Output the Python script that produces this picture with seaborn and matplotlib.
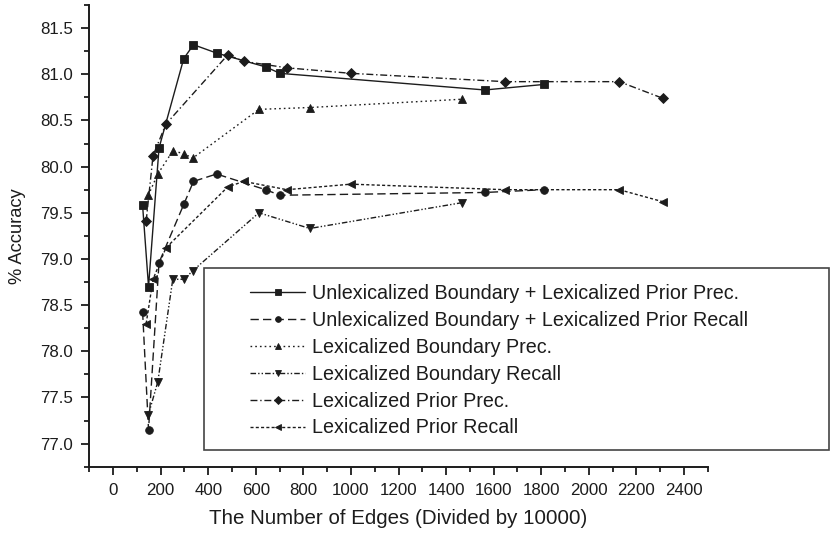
import numpy as np
import pandas as pd
import matplotlib
matplotlib.use("Agg")
import matplotlib.pyplot as plt
from matplotlib.patches import Rectangle
from matplotlib.ticker import MultipleLocator, FormatStrFormatter
import seaborn as sns

# Number of edges (divided by 10000) for each parser configuration
edges_unlex_boundary = [124, 149, 193, 297, 338, 435, 641, 702, 1563, 1812]
edges_lex_boundary = [148, 188, 251, 299, 334, 613, 827, 1468]
edges_lex_prior = [139, 168, 222, 482, 549, 731, 1000, 1648, 2128, 2311]

# Accuracy (%) per series
unlex_prec = [79.58, 78.70, 80.20, 81.17, 81.32, 81.23, 81.08, 81.01, 80.83, 80.89]
unlex_recall = [78.43, 77.15, 78.96, 79.59, 79.84, 79.92, 79.75, 79.69, 79.72, 79.75]
lexb_prec = [79.69, 79.92, 80.17, 80.14, 80.09, 80.62, 80.64, 80.73]
lexb_recall = [77.31, 77.67, 78.78, 78.78, 78.87, 79.50, 79.33, 79.61]
lexp_prec = [79.41, 80.12, 80.46, 81.21, 81.14, 81.07, 81.01, 80.92, 80.92, 80.74]
lexp_recall = [78.30, 78.78, 79.12, 79.78, 79.84, 79.75, 79.81, 79.75, 79.75, 79.62]

series_labels = [
    "Unlexicalized Boundary + Lexicalized Prior Prec.",
    "Unlexicalized Boundary + Lexicalized Prior Recall",
    "Lexicalized Boundary Prec.",
    "Lexicalized Boundary Recall",
    "Lexicalized Prior Prec.",
    "Lexicalized Prior Recall",
]

sns.set_theme(style="ticks")
plt.rcParams["font.family"] = ["Liberation Sans", "DejaVu Sans"]
ink = "#1c1c1c"
plt.rcParams["text.color"] = ink
plt.rcParams["axes.labelcolor"] = ink
plt.rcParams["xtick.color"] = ink
plt.rcParams["ytick.color"] = ink

fig = plt.figure(figsize=(8.3, 5.34), dpi=100)
ax = fig.add_axes([0.1076, 0.126, 0.7451, 0.8646])

specs = [
    (edges_unlex_boundary, unlex_prec, "s", "-", 5.5),
    (edges_unlex_boundary, unlex_recall, "o", (0, (6, 3)), 5.5),
    (edges_lex_boundary, lexb_prec, "^", (0, (1.2, 2.2)), 6),
    (edges_lex_boundary, lexb_recall, "v", (0, (4, 1.5, 1, 1.5, 1, 1.5)), 6),
    (edges_lex_prior, lexp_prec, "D", (0, (5, 2, 1, 2)), 5),
    (edges_lex_prior, lexp_recall, "<", (0, (2.2, 1.6)), 6),
]

for (xs, ys, mk, ls, ms), lab in zip(specs, series_labels):
    df = pd.DataFrame({"edges": xs, "acc": ys})
    sns.lineplot(data=df, x="edges", y="acc", ax=ax, color=ink, marker=mk,
                 markersize=ms, markeredgecolor=ink, markeredgewidth=0.6,
                 linestyle=ls, linewidth=1.0, label=lab, legend=False)

ax.set_xlim(-100, 2500)
ax.set_ylim(76.75, 81.75)
ax.xaxis.set_major_locator(MultipleLocator(200))
ax.xaxis.set_minor_locator(MultipleLocator(100))
ax.yaxis.set_major_locator(MultipleLocator(0.5))
ax.yaxis.set_minor_locator(MultipleLocator(0.25))
ax.yaxis.set_major_formatter(FormatStrFormatter("%.1f"))
ax.set_xticks(np.arange(0, 2401, 200))

for side in ("top", "right"):
    ax.spines[side].set_visible(False)
for side in ("left", "bottom"):
    ax.spines[side].set_linewidth(1.4)
    ax.spines[side].set_color(ink)

ax.tick_params(axis="both", which="major", direction="out", length=6,
               width=1.3, labelsize=12.2, pad=6)
ax.tick_params(axis="both", which="minor", direction="out", length=3.8,
               width=1.3)

ax.set_xlabel("The Number of Edges (Divided by 10000)", fontsize=14.8, labelpad=8)
ax.set_ylabel("% Accuracy", fontsize=13.2, labelpad=10)
ax.grid(False)

# Legend box spanning past the axes on the right
fig.patches.append(Rectangle((204 / 830, 1 - 450 / 534), 625 / 830, 182 / 534,
                             transform=fig.transFigure, fill=False,
                             edgecolor="#444444", linewidth=1.2, zorder=5))
handles, labels = ax.get_legend_handles_labels()
leg = ax.legend(handles, labels, loc="upper left",
                bbox_to_anchor=(250 / 830, 1 - 284 / 534),
                bbox_transform=fig.transFigure, frameon=False,
                fontsize=14.2, handlelength=2.8, handletextpad=0.35,
                labelspacing=0.4, borderpad=0, borderaxespad=0,
                markerscale=0.75)

fig.savefig("out.png", dpi=100)
